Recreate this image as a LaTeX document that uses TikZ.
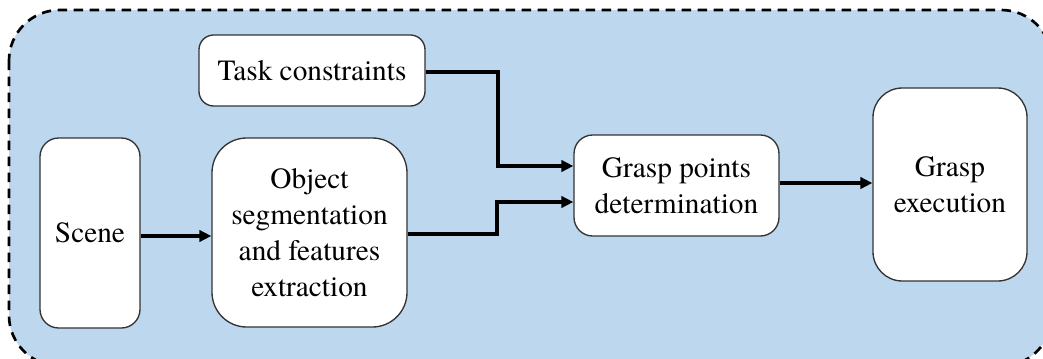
\documentclass[tikz,border=0pt]{standalone}
\usepackage{fontspec}
\newfontfamily\labelfont{TeX Gyre Termes}
\usetikzlibrary{arrows.meta}
\definecolor{panel}{HTML}{BDD7EE}
\begin{document}
\begin{tikzpicture}[x=0.75pt,y=-0.75pt,
  block/.style={draw=black!80, line width=1pt, fill=white, align=center,
    font=\labelfont\fontsize{22}{27}\selectfont, inner sep=0pt},
  link/.style={line width=2.6pt, -{Triangle[length=9pt,width=8.5pt]}}]
\useasboundingbox (0,0) rectangle (1043,358);
\clip (0,0) rectangle (1043,358);
% dashed panel behind the pipeline
\draw[fill=panel, line width=2pt, dash pattern=on 7pt off 5pt, rounded corners=38pt]
  (9,10) rectangle (1052,366);
% blocks
\node[block, rounded corners=11pt, minimum width=226*0.75pt, minimum height=71*0.75pt] (task) at (312,70.5) {Task constraints};
\node[block, rounded corners=14pt, minimum width=100*0.75pt, minimum height=190*0.75pt] (scene) at (90,233) {Scene};
\node[block, rounded corners=26pt, minimum width=195*0.75pt, minimum height=189*0.75pt] (obj) at (309.5,232.5) {Object\\segmentation\\and features\\extraction};
\node[block, rounded corners=14pt, minimum width=205*0.75pt, minimum height=101*0.75pt] (grasp) at (676.5,185.5) {Grasp points\\determination};
\node[block, rounded corners=22pt, minimum width=154*0.75pt, minimum height=193*0.75pt] (exec) at (950,184.5) {Grasp\\execution};
% connectors
\draw[link] (scene.east |- 0,236) -- (obj.west |- 0,236);
\draw[link] (task.east |- 0,72) -| (498,166) -- (grasp.west |- 0,166);
\draw[link] (obj.east |- 0,234) -| (497,202) -- (grasp.west |- 0,202);
\draw[link] (grasp.east |- 0,183) -- (exec.west |- 0,183);
\end{tikzpicture}
\end{document}
